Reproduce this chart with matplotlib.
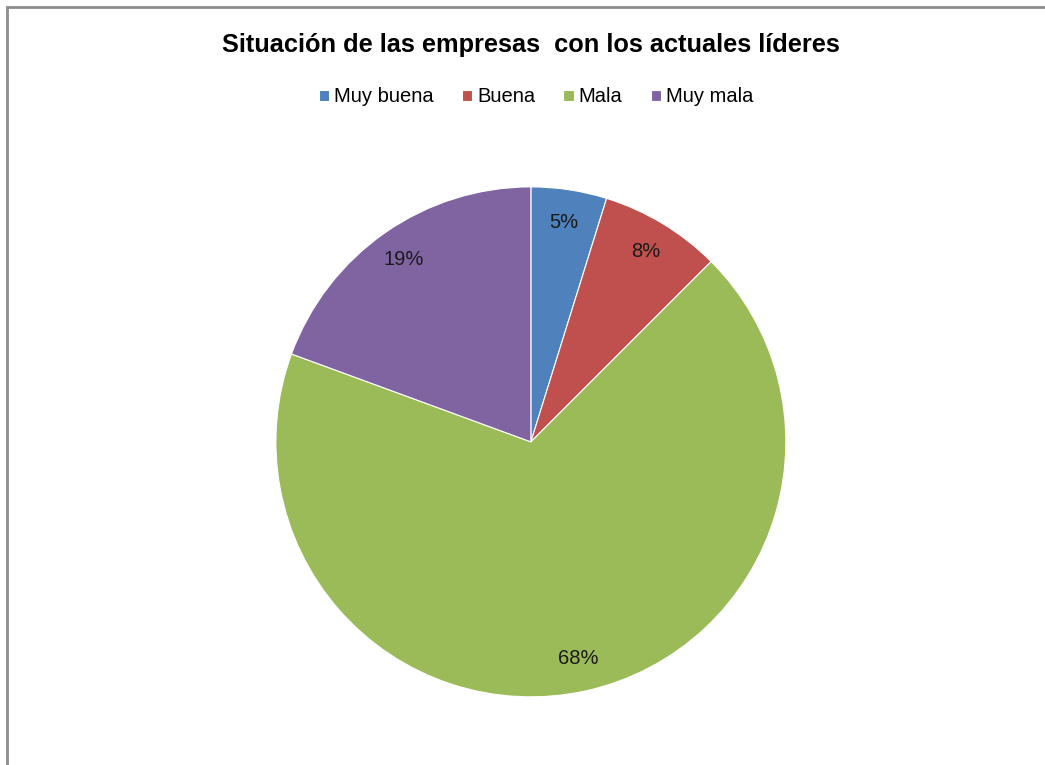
import matplotlib.pyplot as plt
from matplotlib.patches import Rectangle

categories = ['Muy buena', 'Buena', 'Mala', 'Muy mala']
values = [4.8, 7.7, 68.1, 19.4]
colors = ['#4F81BD', '#C0504D', '#9BBB59', '#8064A2']

plt.rcParams['font.family'] = ['Liberation Sans', 'DejaVu Sans']

fig = plt.figure(figsize=(10.45, 7.65), dpi=100)

# gray frame of the chart area (runs off right/bottom edges)
fig.patches.append(Rectangle((7 / 1045, -0.05), 1.2, (765 - 7) / 765 + 0.05,
                             transform=fig.transFigure, fill=False,
                             edgecolor='#8c8c8c', linewidth=2))

fig.text(0.508, 1 - 45 / 765, 'Situación de las empresas  con los actuales líderes',
         ha='center', va='center', fontsize=18.3, fontweight='bold')

ax = fig.add_axes([0.264, 0.0889, 0.488, 0.667])
wedges, texts, autotexts = ax.pie(values, colors=colors, startangle=90, counterclock=False,
                                  autopct='%1.0f%%', pctdistance=0.87, radius=1,
                                  wedgeprops=dict(edgecolor='white', linewidth=0.8),
                                  textprops=dict(fontsize=14.5, color='#1a1a1a'))
ax.set_xlim(-1, 1)
ax.set_ylim(-1, 1)

fig.legend(wedges, categories, loc='center', bbox_to_anchor=(0.513, 1 - 97 / 765),
           ncol=4, frameon=False, fontsize=14.5, handlelength=0.5, handleheight=0.5,
           handletextpad=0.25, columnspacing=1.4)

plt.savefig('out.png', dpi=100)
